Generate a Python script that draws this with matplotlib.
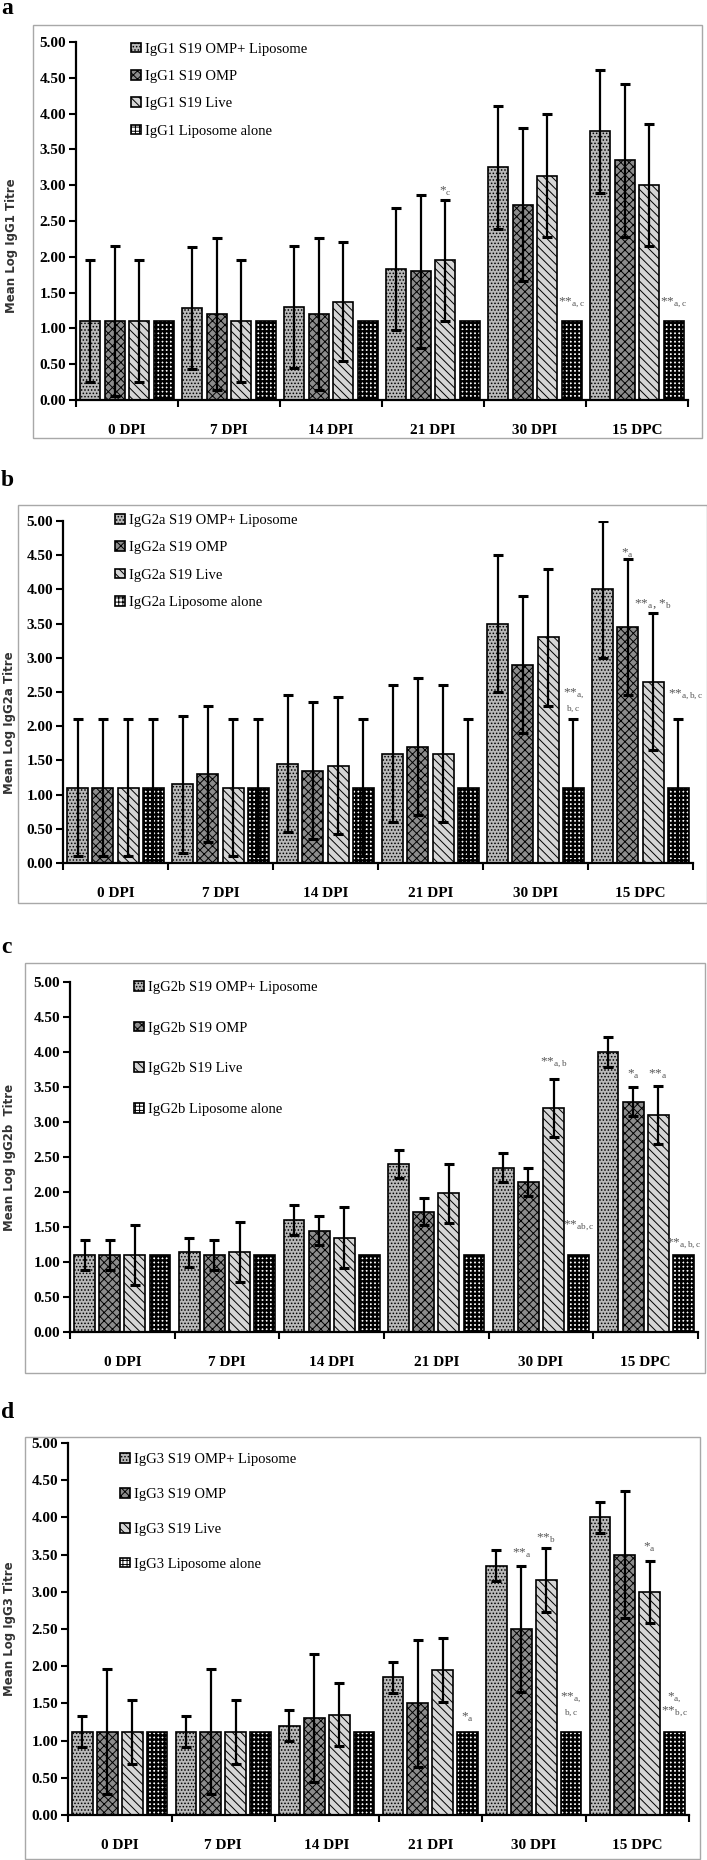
# -*- coding: utf-8 -*-
import numpy as np
import matplotlib
matplotlib.use('Agg')
import matplotlib.pyplot as plt
from matplotlib.patches import Rectangle

plt.rcParams['font.family'] = ['Liberation Serif', 'DejaVu Serif']
plt.rcParams['mathtext.fontset'] = 'stix'
plt.rcParams['hatch.linewidth'] = 0.7

W, H = 707, 1860   # figure size in pixels (dpi 100)

# x categories
days = ['0 DPI', '7 DPI', '14 DPI', '21 DPI', '30 DPI', '15 DPC']

# ---- a : IgG1 (mean, +/- error) ----
igg1_omp_lipo = [1.10, 1.28, 1.30, 1.83, 3.25, 3.75]
igg1_omp_lipo_err = [0.85, 0.85, 0.85, 0.85, 0.86, 0.86]
igg1_omp = [1.10, 1.20, 1.20, 1.80, 2.73, 3.35]
igg1_omp_err = [1.05, 1.06, 1.06, 1.07, 1.07, 1.07]
igg1_live = [1.10, 1.10, 1.37, 1.95, 3.13, 3.00]
igg1_live_err = [0.85, 0.85, 0.83, 0.85, 0.86, 0.85]
igg1_lipo = [1.10, 1.10, 1.10, 1.10, 1.10, 1.10]
igg1_lipo_err = [0, 0, 0, 0, 0, 0]

# ---- b : IgG2a ----
igg2a_omp_lipo = [1.10, 1.15, 1.45, 1.60, 3.50, 4.00]
igg2a_omp_lipo_err = [1.0, 1.0, 1.0, 1.0, 1.0, 1.0]
igg2a_omp = [1.10, 1.30, 1.35, 1.70, 2.90, 3.45]
igg2a_omp_err = [1.0, 1.0, 1.0, 1.0, 1.0, 1.0]
igg2a_live = [1.10, 1.10, 1.42, 1.60, 3.30, 2.65]
igg2a_live_err = [1.0, 1.0, 1.0, 1.0, 1.0, 1.0]
igg2a_lipo = [1.10, 1.10, 1.10, 1.10, 1.10, 1.10]
igg2a_lipo_err = [1.0, 1.0, 1.0, 1.0, 1.0, 1.0]

# ---- c : IgG2b ----
igg2b_omp_lipo = [1.10, 1.14, 1.60, 2.40, 2.35, 4.00]
igg2b_omp_lipo_err = [0.21, 0.21, 0.22, 0.20, 0.21, 0.21]
igg2b_omp = [1.10, 1.10, 1.45, 1.72, 2.15, 3.29]
igg2b_omp_err = [0.21, 0.21, 0.21, 0.19, 0.20, 0.21]
igg2b_live = [1.10, 1.14, 1.35, 1.98, 3.20, 3.10]
igg2b_live_err = [0.43, 0.43, 0.43, 0.42, 0.42, 0.42]
igg2b_lipo = [1.10, 1.10, 1.10, 1.10, 1.10, 1.10]
igg2b_lipo_err = [0, 0, 0, 0, 0, 0]

# ---- d : IgG3 ----
igg3_omp_lipo = [1.12, 1.12, 1.20, 1.85, 3.35, 4.00]
igg3_omp_lipo_err = [0.21, 0.21, 0.21, 0.21, 0.21, 0.21]
igg3_omp = [1.12, 1.12, 1.30, 1.50, 2.50, 3.50]
igg3_omp_err = [0.84, 0.84, 0.86, 0.85, 0.85, 0.85]
igg3_live = [1.12, 1.12, 1.35, 1.95, 3.16, 3.00]
igg3_live_err = [0.43, 0.43, 0.42, 0.43, 0.43, 0.42]
igg3_lipo = [1.12, 1.12, 1.12, 1.12, 1.12, 1.12]
igg3_lipo_err = [0, 0, 0, 0, 0, 0]

# significance marks: (day index, bar index, y, text)
notes_a = [(3, 2, 2.92, '*$_{\\mathregular{c}}$'),
           (4, 3, 1.36, '**$_{\\mathregular{a,c}}$'),
           (5, 3, 1.36, '**$_{\\mathregular{a,c}}$')]
notes_b = [(4, 3, 2.38, '**$_{\\mathregular{a,}}$\n$_{\\mathregular{b, c}}$'),
           (5, 1, 4.53, '*$_{\\mathregular{a}}$'),
           (5, 2, 3.78, '**$_{\\mathregular{a}}$, *$_{\\mathregular{b}}$'),
           (5, 3.3, 2.46, '**$_{\\mathregular{a, b, c}}$')]
notes_c = [(4, 2, 3.84, '**$_{\\mathregular{a, b}}$'),
           (4, 3, 1.51, '**$_{\\mathregular{a b,c}}$'),
           (5, 1, 3.68, '*$_{\\mathregular{a}}$'),
           (5, 2, 3.68, '**$_{\\mathregular{a}}$'),
           (5, 3, 1.26, '**$_{\\mathregular{a,b,c}}$')]
notes_d = [(3, 3, 1.32, '*$_{\\mathregular{a}}$'),
           (4, 1, 3.52, '**$_{\\mathregular{a}}$'),
           (4, 2, 3.72, '**$_{\\mathregular{b}}$'),
           (4, 3, 1.48, '**$_{\\mathregular{a,}}$\n$_{\\mathregular{b,c}}$'),
           (5, 2, 3.60, '*$_{\\mathregular{a}}$'),
           (5, 3, 1.48, '*$_{\\mathregular{a,}}$\n**$_{\\mathregular{b,c}}$')]

panels = [
    dict(letter='a', iso='IgG1', ylabel='Mean Log IgG1 Titre',
         series=[(igg1_omp_lipo, igg1_omp_lipo_err), (igg1_omp, igg1_omp_err),
                 (igg1_live, igg1_live_err), (igg1_lipo, igg1_lipo_err)],
         notes=notes_a,
         ax=(76, 42, 688, 400), frame=(33, 25, 702, 438), let_y=8,
         leg=(0.09, 0.998, 0.98), ylab=(-0.095, 0.43)),
    dict(letter='b', iso='IgG2a', ylabel='Mean Log IgG2a Titre',
         series=[(igg2a_omp_lipo, igg2a_omp_lipo_err), (igg2a_omp, igg2a_omp_err),
                 (igg2a_live, igg2a_live_err), (igg2a_lipo, igg2a_lipo_err)],
         notes=notes_b,
         ax=(63, 521, 693, 863), frame=(18, 505, 707, 903), let_y=480,
         leg=(0.083, 1.02, 0.98), ylab=(-0.075, 0.41)),
    dict(letter='c', iso='IgG2b', ylabel='Mean Log IgG2b  Titre',
         series=[(igg2b_omp_lipo, igg2b_omp_lipo_err), (igg2b_omp, igg2b_omp_err),
                 (igg2b_live, igg2b_live_err), (igg2b_lipo, igg2b_lipo_err)],
         notes=notes_c,
         ax=(70, 982, 698, 1332), frame=(25, 963, 705, 1373), let_y=947,
         leg=(0.102, 1.003, 1.9), ylab=(-0.086, 0.50)),
    dict(letter='d', iso='IgG3', ylabel='Mean Log IgG3 Titre',
         series=[(igg3_omp_lipo, igg3_omp_lipo_err), (igg3_omp, igg3_omp_err),
                 (igg3_live, igg3_live_err), (igg3_lipo, igg3_lipo_err)],
         notes=notes_d,
         ax=(68, 1443, 689, 1815), frame=(25, 1437, 700, 1859), let_y=1413,
         leg=(0.084, 0.973, 1.5), ylab=(-0.084, 0.50)),
]

group_names = ['S19 OMP+ Liposome', 'S19 OMP', 'S19 Live', 'Liposome alone']
faces = ['#b9b9b9', '#8c8c8c', '#d6d6d6', 'white']
hatches = ['.....', 'xxxx', '\\\\\\\\', '++++']

pitch = 0.24
width = 0.2
offsets = (np.arange(4) - 1.5) * pitch


def px_box(l, t, r, b):
    return [l / W, 1 - b / H, (r - l) / W, (b - t) / H]


fig = plt.figure(figsize=(W / 100, H / 100), dpi=100)

for p in panels:
    l, t, r, b = p['frame']
    fig.patches.append(Rectangle((l / W, 1 - b / H), (r - l) / W, (b - t) / H,
                                 transform=fig.transFigure, fill=False,
                                 edgecolor='#a8a8a8', lw=1.0))
    fig.text(1 / W, 1 - p['let_y'] / H, p['letter'], fontsize=17,
             fontweight='bold', va='center', ha='left')

    ax = fig.add_axes(px_box(*p['ax']))
    x = np.arange(len(days))
    handles = []
    for k, (vals, errs) in enumerate(p['series']):
        bars = ax.bar(x + offsets[k], vals, width, color=faces[k],
                      edgecolor='black', linewidth=1.2, hatch=hatches[k],
                      zorder=2, label=p['iso'] + ' ' + group_names[k])
        if k == 3 and hasattr(bars[0], 'set_hatch_linewidth'):
            for bb in bars:
                bb.set_hatch_linewidth(1.7)
        handles.append(bars)
        if max(errs) > 0:
            ax.errorbar(x + offsets[k], vals, yerr=errs, fmt='none',
                        ecolor='black', elinewidth=1.6, capsize=3.5,
                        capthick=2.2, zorder=3)

    for (g, k, yy, s) in p['notes']:
        xx = g + (k - 1.5) * pitch
        ax.text(xx, yy, s, ha='center', va='center', fontsize=9.5,
                color='#555555', linespacing=0.9)

    ax.set_xlim(-0.5, 5.5)
    ax.set_ylim(0, 5)
    ax.set_yticks(np.arange(0, 5.01, 0.5))
    ax.set_yticklabels(['%.2f' % v for v in np.arange(0, 5.01, 0.5)],
                       fontsize=11, fontweight='bold')
    ax.set_xticks(np.arange(-0.5, 5.6, 1.0))
    ax.set_xticklabels([])
    ax.set_xticks(x, minor=True)
    ax.set_xticklabels(days, minor=True, fontsize=11, fontweight='bold')
    ax.tick_params(axis='x', which='minor', length=0, pad=17)
    ax.tick_params(axis='both', which='major', direction='out', length=5,
                   width=1.5, pad=2)
    for side in ['top', 'right']:
        ax.spines[side].set_visible(False)
    for side in ['left', 'bottom']:
        ax.spines[side].set_linewidth(1.6)

    ax.set_ylabel(p['ylabel'], family='DejaVu Sans', fontweight='bold',
                  fontsize=8.5, color='#333333')
    ax.yaxis.set_label_coords(*p['ylab'])

    lx, ly, lsp = p['leg']
    ax.legend(handles=handles, loc='upper left', bbox_to_anchor=(lx, ly),
              frameon=False, fontsize=10.5, handlelength=0.65,
              handleheight=0.65, handletextpad=0.3, labelspacing=lsp,
              borderpad=0, borderaxespad=0)

plt.savefig('out.png', dpi=100)
